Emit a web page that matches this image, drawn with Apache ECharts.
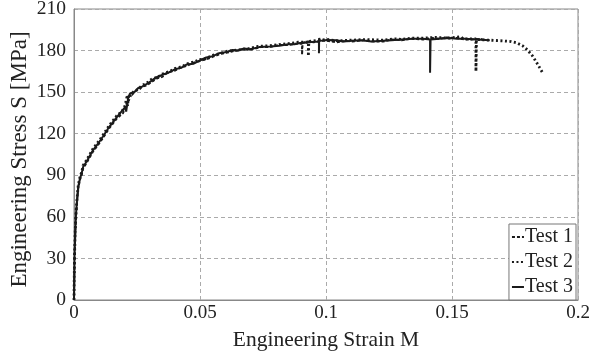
<!DOCTYPE html>
<html><head><meta charset="utf-8">
<script src="https://cdn.jsdelivr.net/npm/echarts@6/dist/echarts.min.js"></script>
<style>html,body{margin:0;padding:0;background:#fff}#c{width:590px;height:357px}</style>
</head><body><div id="c"></div>
<script>
const seriesNames = ['Test 1', 'Test 2', 'Test 3'];
const xTicks = [0, 0.05, 0.1, 0.15, 0.2];
const yTicks = [0, 30, 60, 90, 120, 150, 180, 210];

const test1 = [[0,0],[0.0002,28],[0.0005,48],[0.0008,61],[0.0012,71],[0.0017,81],[0.0024,87],[0.003,90],[0.0036,95],[0.005,99],[0.0075,107],[0.01,113],[0.0115,117],[0.014,124],[0.017,131],[0.0195,135],[0.0202,138],[0.021,143],[0.0214,140],[0.0218,147],[0.023,148],[0.0245,151],[0.026,152],[0.027,154],[0.029,155],[0.0313,158],[0.033,160],[0.035,161],[0.037,164],[0.04,165.5],[0.042,167.5],[0.0448,169],[0.047,171],[0.05,172.5],[0.053,174],[0.055,175.5],[0.058,177.5],[0.0607,178.5],[0.063,179.5],[0.065,180],[0.067,181],[0.0698,180.5],[0.074,182.5],[0.0778,182.5],[0.081,184],[0.085,184],[0.088,185],[0.0905,185],[0.0905,177],[0.0907,185.5],[0.093,186.5],[0.095,186],[0.098,187],[0.1004,187],[0.104,186],[0.108,187],[0.11,186.5],[0.115,187.5],[0.119,186.5],[0.1226,186.5],[0.126,188],[0.13,187.5],[0.134,188.5],[0.1385,188],[0.142,189],[0.145,188.5],[0.148,189.5],[0.152,189],[0.155,188],[0.158,188],[0.161,188.5],[0.163,187.5]];

const test2 = [[0,0],[0.0002,31],[0.0005,51],[0.0008,63],[0.0012,73],[0.0017,83],[0.0024,89],[0.003,92],[0.0036,97],[0.005,101],[0.0075,109],[0.01,115],[0.0115,119],[0.014,126],[0.017,133],[0.019,136],[0.0202,140],[0.0212,148],[0.0216,144],[0.0225,148],[0.024,151],[0.0255,152],[0.027,155],[0.0285,156],[0.0313,160],[0.033,160.5],[0.035,163],[0.038,165],[0.04,167],[0.043,168.5],[0.0448,170.5],[0.048,172],[0.05,173.5],[0.052,174],[0.055,176.5],[0.058,178],[0.0607,179.5],[0.063,180],[0.065,180.5],[0.0698,181.5],[0.073,183],[0.0778,183.5],[0.082,184.5],[0.085,185],[0.089,186],[0.093,186],[0.093,176],[0.0932,186.5],[0.097,187.5],[0.1004,188],[0.105,187],[0.11,187.5],[0.116,188],[0.1226,187.5],[0.127,188.5],[0.13,188],[0.134,189],[0.1385,189],[0.143,189.5],[0.149,189],[0.1535,190],[0.1545,188.5],[0.1595,188.5],[0.1595,165],[0.1597,188],[0.165,187.5],[0.17,187],[0.1735,186.5],[0.1758,185.5],[0.178,183.5],[0.18,180.4],[0.182,176],[0.1837,171],[0.185,167],[0.186,163.8]];

const test3 = [[0,0],[0.0002,30],[0.0005,50],[0.0008,62],[0.0012,72],[0.0017,82],[0.0024,88],[0.003,91],[0.0036,96],[0.005,100],[0.0075,108],[0.01,114],[0.0115,118],[0.014,125],[0.017,132],[0.0202,139],[0.0207,136],[0.0215,146],[0.0222,149],[0.024,150],[0.0255,153],[0.027,154],[0.0295,156.5],[0.0313,159],[0.033,161],[0.035,162.5],[0.0375,164],[0.04,166.5],[0.0425,167.5],[0.0448,170],[0.0475,170.5],[0.05,173],[0.0525,175],[0.055,176],[0.0575,178],[0.0607,179],[0.063,180.5],[0.065,180],[0.0675,181.5],[0.0698,181],[0.0735,182.5],[0.0778,183],[0.0815,183.5],[0.085,184.5],[0.0875,184.5],[0.0897,185.5],[0.093,186],[0.0972,186.5],[0.0972,178],[0.0973,189],[0.0976,187],[0.1004,187.6],[0.104,187.5],[0.107,186.5],[0.11,187],[0.114,187.5],[0.118,186.5],[0.1226,187],[0.126,187.5],[0.13,188],[0.1345,188.5],[0.1385,188.5],[0.1413,188],[0.1413,164],[0.1415,188],[0.145,188.5],[0.149,189],[0.152,188.5],[0.155,188.5],[0.16,188],[0.165,187.5]];

const serif = '"Liberation Serif","DejaVu Serif",serif';
const chart = echarts.init(document.getElementById('c'));
const mk = (name, data, type, width) => ({
  name, type: 'line', data, showSymbol: false, symbol: 'none', animation: false,
  color: '#1a1a1a',
  itemStyle: { color: '#1a1a1a' },
  lineStyle: { color: '#1a1a1a', width, type }
});
chart.setOption({
  animation: false,
  backgroundColor: '#fff',
  grid: { left: 74, right: 12, top: 9, bottom: 57, show: true, borderColor: '#888', borderWidth: 1,
    containLabel: false, outerBoundsMode: 'none' },
  legend: {
    data: seriesNames, orient: 'vertical', right: 14, bottom: 57,
    backgroundColor: '#fff', borderColor: '#777', borderWidth: 1, padding: [3, 3, 3, 2],
    itemWidth: 12, itemHeight: 12, itemGap: 5,
    itemStyle: { opacity: 0 },
    textStyle: { fontFamily: serif, fontSize: 20, color: '#222', padding: [0, 0, 0, -4] }
  },
  xAxis: {
    type: 'value', min: 0, max: 0.2, interval: 0.05,
    name: 'Engineering Strain M', nameLocation: 'middle', nameGap: 29,
    nameTextStyle: { fontFamily: serif, fontSize: 21.5, color: '#222' },
    axisLine: { lineStyle: { color: '#888' } }, axisTick: { show: false },
    axisLabel: { fontFamily: serif, fontSize: 19, color: '#222', margin: 4,
      formatter: v => xTicks.includes(+v.toFixed(2)) ? String(+v.toFixed(2)) : '' },
    splitLine: { lineStyle: { color: '#aaa', type: [4, 3] } }
  },
  yAxis: {
    type: 'value', min: 0, max: 210, interval: 30,
    name: 'Engineering Stress S [MPa]', nameLocation: 'middle', nameGap: 43, nameMoveOverlap: false,
    nameTextStyle: { fontFamily: serif, fontSize: 23, color: '#222', padding: [0, 10, 0, 0] },
    axisLine: { lineStyle: { color: '#888' } }, axisTick: { show: false },
    axisLabel: { fontFamily: serif, fontSize: 19.5, color: '#222', margin: 8,
      formatter: v => yTicks.includes(v) ? String(v) : '' },
    splitLine: { lineStyle: { color: '#aaa', type: [4, 3] } }
  },
  series: [
    mk('Test 1', test1, [3, 2], 2),
    mk('Test 2', test2, [2, 2.5], 2.8),
    mk('Test 3', test3, 'solid', 2)
  ]
});
</script></body></html>
